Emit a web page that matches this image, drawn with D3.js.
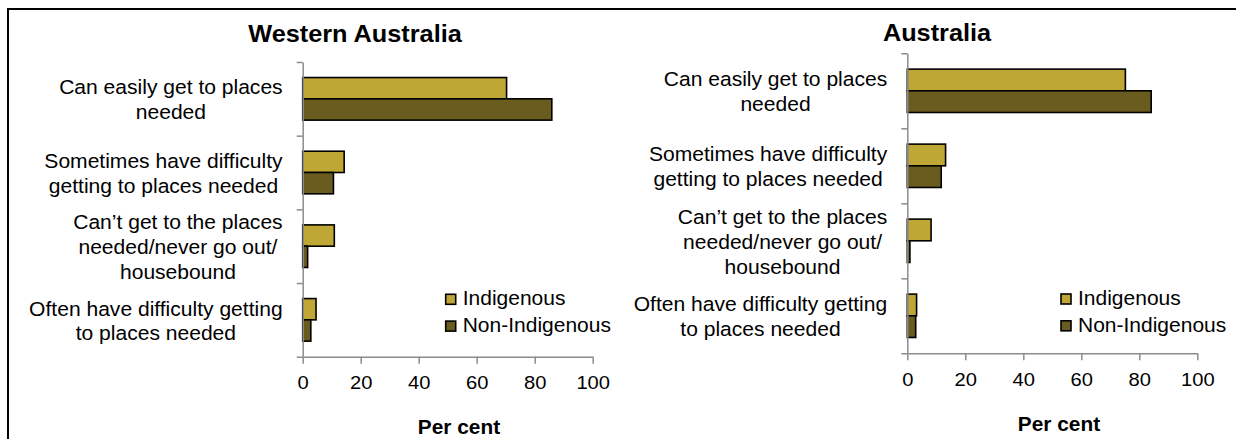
<!DOCTYPE html>
<html>
<head>
<meta charset="utf-8">
<script src="https://cdn.jsdelivr.net/npm/d3@7"></script>
<style>
  html, body { margin: 0; padding: 0; background: #fff; }
  svg { display: block; }
  text { font-family: Arial, "Liberation Sans", sans-serif; fill: #000; }
</style>
</head>
<body>
<svg id="chart" width="1236" height="439"></svg>
<script>
// ---- data ----
const categories = [
  ["Can easily get to places", "needed"],
  ["Sometimes have difficulty", "getting to places needed"],
  ["Can\u2019t get to the places", "needed/never go out/", "housebound"],
  ["Often have difficulty getting", "to places needed"]
];
const seriesNames = ["Indigenous", "Non-Indigenous"];
const waIndigenous = [70.3, 14.3, 10.9, 4.6];
const waNonIndigenous = [85.9, 10.6, 1.7, 2.8];
const ausIndigenous = [75.2, 13.2, 8.2, 3.2];
const ausNonIndigenous = [84.1, 11.7, 0.9, 2.9];
const xTicks = [0, 20, 40, 60, 80, 100];
const panelTitles = ["Western Australia", "Australia"];
const axisTitle = "Per cent";

const colors = { "Indigenous": "#BEA735", "Non-Indigenous": "#6A5B1F" };
const axisColor = "#8C8C8C";
const SX = 1.08; // horizontal text stretch seen in the reference

const svg = d3.select("#chart");

// outer frame (top + left edges visible)
svg.append("path")
  .attr("d", "M8,439 V9 H1236")
  .attr("fill", "none").attr("stroke", "#000").attr("stroke-width", 2);

function stretchedText(g, x, y, str, size, weight, anchor, sx) {
  return g.append("text")
    .attr("transform", `translate(${x},${y}) scale(${sx || SX},1)`)
    .attr("text-anchor", anchor || "start")
    .attr("font-size", size)
    .attr("font-weight", weight || "normal")
    .text(str);
}

const panels = [
  { title: panelTitles[0], data: [waIndigenous, waNonIndigenous],
    x0: 302.7, x1: 592.7, yTop: 62, yBot: 356.7,
    titleX: 355, titleY: 41.5, perX: 459, perY: 433.5,
    legX: 445.7, legY: 294.3 },
  { title: panelTitles[1], data: [ausIndigenous, ausNonIndigenous],
    x0: 907.3, x1: 1197.3, yTop: 53.3, yBot: 353.3,
    titleX: 937, titleY: 40.5, perX: 1059, perY: 430.7,
    legX: 1061, legY: 294 }
];

panels.forEach(p => {
  const g = svg.append("g");
  const x = d3.scaleLinear().domain([0, 100]).range([p.x0, p.x1]);
  const y0 = d3.scaleBand().domain(d3.range(categories.length)).range([p.yTop, p.yBot]).padding(0);
  const y1 = d3.scaleBand().domain(seriesNames).range([0, y0.bandwidth()]).paddingInner(0).paddingOuter(0.73);

  // bars
  seriesNames.forEach((s, si) => {
    g.selectAll(null).data(p.data[si]).enter().append("rect")
      .attr("x", x(0))
      .attr("y", (d, i) => y0(i) + y1(s))
      .attr("width", d => x(d) - x(0))
      .attr("height", y1.bandwidth())
      .attr("fill", colors[s])
      .attr("stroke", "#000")
      .attr("stroke-width", 1.6);
  });

  // y axis (ticks at category boundaries)
  const yb = d3.scaleLinear().domain([0, categories.length]).range([p.yTop, p.yBot]);
  const yAxis = g.append("g").attr("transform", `translate(${x(0)},0)`)
    .call(d3.axisLeft(yb).tickValues(d3.range(categories.length + 1)).tickSize(6).tickSizeOuter(0).tickFormat(""));
  yAxis.selectAll("path, line").attr("stroke", axisColor).attr("stroke-width", 1.5);

  // x axis
  const xAxis = g.append("g").attr("transform", `translate(0,${p.yBot})`)
    .call(d3.axisBottom(x).tickValues(xTicks).tickSize(7).tickSizeOuter(0).tickFormat(d3.format("d")));
  xAxis.selectAll("path, line").attr("stroke", axisColor).attr("stroke-width", 1.5);
  xAxis.selectAll("text")
    .attr("dy", null).attr("y", 0)
    .attr("transform", `translate(0,32.6) scale(1.12,1)`)
    .attr("font-size", 18).attr("fill", "#000")
    .attr("font-family", 'Arial, "Liberation Sans", sans-serif');

  // category labels: centred multi-line blocks, right-aligned as a block
  const rightEdge = x(0) - 20;
  const lh = 24.7;
  categories.forEach((lines, i) => {
    const cy = y0(i) + y0.bandwidth() / 2 + 1;
    // measure
    const tmp = lines.map(l => {
      const t = g.append("text").attr("font-size", 19.5).text(l);
      const w = t.node().getComputedTextLength() * SX;
      t.remove();
      return w;
    });
    const maxW = d3.max(tmp);
    const cx = rightEdge - maxW / 2;
    lines.forEach((l, li) => {
      const lc = cy + (li - (lines.length - 1) / 2) * lh;
      stretchedText(g, cx, lc + 7, l, 19.5, "normal", "middle");
    });
  });

  // title
  stretchedText(g, p.titleX, p.titleY, p.title, 23, "bold", "middle", 1.1);
  // axis title
  stretchedText(g, p.perX, p.perY, axisTitle, 19.5, "bold", "middle", 1.07);

  // legend
  seriesNames.forEach((s, si) => {
    const ly = p.legY + si * 26.8;
    g.append("rect").attr("x", p.legX).attr("y", ly).attr("width", 10).attr("height", 10)
      .attr("fill", colors[s]).attr("stroke", "#000").attr("stroke-width", 1.6);
    stretchedText(g, p.legX + 17, ly + 11, s, 20, "normal", "start", 1.05);
  });
});
</script>
</body>
</html>
